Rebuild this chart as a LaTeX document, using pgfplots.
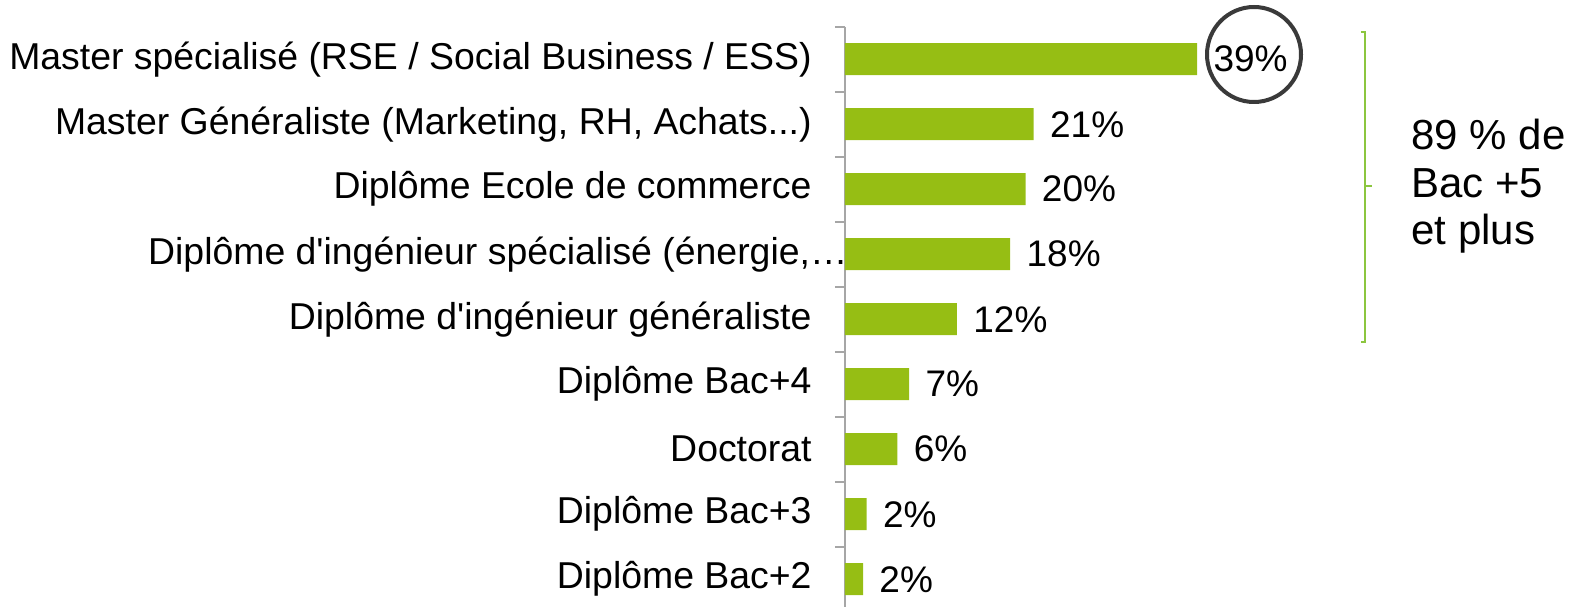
\documentclass[border=0pt]{standalone}
\usepackage{fontspec}
\setmainfont{Liberation Sans}[Ligatures=TeXOff]
\usepackage{pgfplots}
\pgfplotsset{compat=1.18}
\usepackage{pgfplotstable}
\definecolor{barc}{HTML}{96BE14}
\definecolor{brk}{HTML}{8CC63F}
\definecolor{axg}{HTML}{A6A6A6}
\definecolor{circ}{HTML}{3A3A3A}

\pgfplotstableread{
idx val lab
0 39.0 39
1 20.9 21
2 20.0 20
3 18.3 18
4 12.4 12
5 7.1 7
6 5.8 6
7 2.4 2
8 2.0 2
}\data

\begin{document}
\begin{tikzpicture}
\useasboundingbox (0,0) rectangle (790.5pt,303pt);
\clip (0,0) rectangle (790.5pt,303pt);
\begin{axis}[
 at={(422.5pt,-2.85pt)}, anchor=south west, scale only axis,
 width=225.75pt, height=292.5pt,
 xmin=0, xmax=50, ymin=-0.5, ymax=8.5, y dir=reverse,
 axis x line=none, axis y line*=left,
 y axis line style={draw=axg, line width=1pt},
 xtick=\empty,
 ytick={0,1,2,3,4,5,6,7,8},
 yticklabels={{Master spécialisé (RSE / Social Business / ESS)},
   {Master Généraliste (Marketing, RH, Achats.\relax.\relax.)},
   {Diplôme Ecole de commerce},
   {Diplôme d'ingénieur spécialisé (énergie,…\hspace*{-18pt}},
   {Diplôme d'ingénieur généraliste},
   {Diplôme Bac+4},
   {Doctorat},
   {Diplôme Bac+3},
   {Diplôme Bac+2}},
 major tick length=0pt,
 minor ytick={-0.5,0.5,1.5,2.5,3.5,4.5,5.5,6.5,7.5,8.5},
 minor tick length=5pt,
 tick align=outside,
 tick style={draw=axg, line width=1pt},
 yticklabel style={font=\fontsize{18.7}{22}\selectfont, inner sep=0pt, xshift=-16.5pt},
 xbar, bar width=16pt,
 nodes near coords={\pgfplotspointmeta\%},
 point meta=explicit symbolic,
 every node near coord/.append style={font=\fontsize{18.5}{22}\selectfont, anchor=west, inner sep=0pt, xshift=8pt, text=black},
 clip=false,
]
\addplot[fill=barc, draw=none] table[x=val, y=idx, meta=lab]{\data};
\end{axis}
\draw[circ, line width=2pt] (627pt,275.75pt) ellipse (23.5pt and 23.75pt);
\draw[brk, line width=1pt] (680.5pt,287pt) -- (682.5pt,287pt) -- (682.5pt,132pt) -- (680.5pt,132pt);
\draw[brk, line width=1pt] (682.5pt,210pt) -- (686pt,210pt);
\node[anchor=base west, inner sep=0pt, font=\fontsize{21}{21}\selectfont] at (705.5pt,228pt) {89 \% de};
\node[anchor=base west, inner sep=0pt, font=\fontsize{21}{21}\selectfont] at (705.5pt,204pt) {Bac +5};
\node[anchor=base west, inner sep=0pt, font=\fontsize{21}{21}\selectfont] at (705.5pt,180.5pt) {et plus};
\end{tikzpicture}
\end{document}
